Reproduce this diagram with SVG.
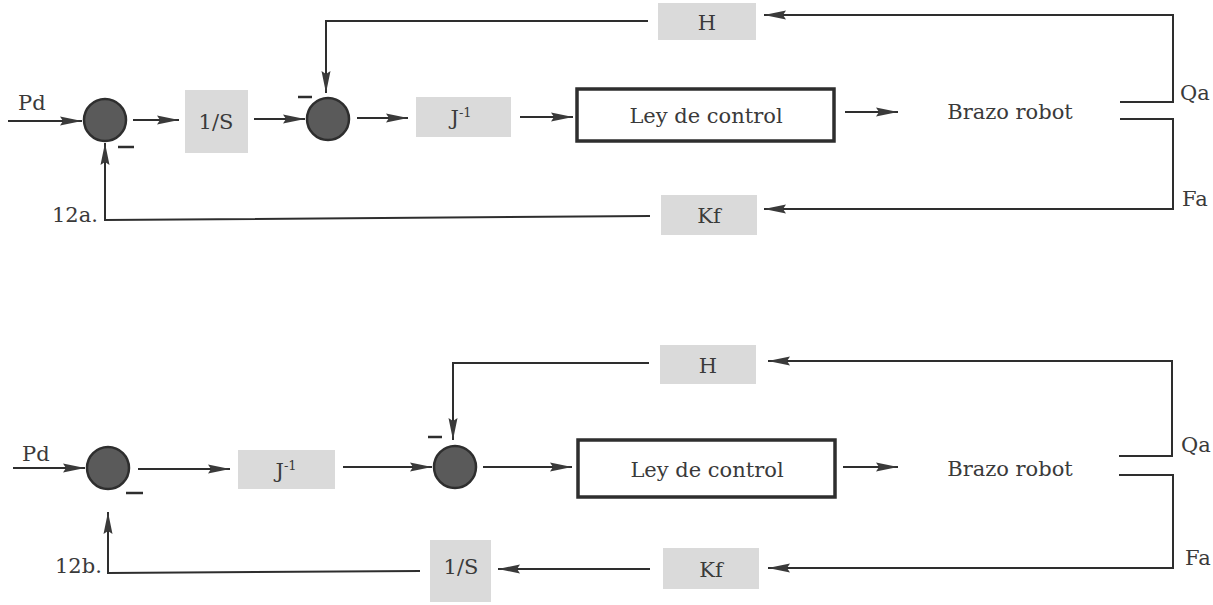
<svg xmlns="http://www.w3.org/2000/svg" width="1213" height="605" viewBox="0 0 1213 605">
  <defs>
    <marker id="arrow" viewBox="0 0 22 10" refX="22" refY="5" markerWidth="22" markerHeight="10" markerUnits="userSpaceOnUse" orient="auto">
      <path d="M0,0.5 L22,5 L0,9.5 L3,5 z" fill="#3a3a3a"/>
    </marker>
    <style>
      .wire { fill: none; stroke: #2e2e2e; stroke-width: 2; }
      .arr { fill: none; stroke: #2e2e2e; stroke-width: 2; marker-end: url(#arrow); }
      .sum { fill: #5a5a5a; stroke: #2e2e2e; stroke-width: 2.5; }
      .gain { fill: #dadada; }
      .ctrl { fill: #ffffff; stroke: #2e2e2e; stroke-width: 3.5; }
      .minus { stroke: #2e2e2e; stroke-width: 2.5; }
      text { font-family: "DejaVu Serif", "Liberation Serif", serif; font-size: 21px; fill: #3a3a3a; }
      .c { text-anchor: middle; }
      .sup { font-size: 13px; }
    </style>
  </defs>

  <!-- ===== Figure 12a ===== -->
  <g id="fig12a">
    <text x="18" y="110">Pd</text>
    <text x="52" y="222">12a.</text>
    <text x="1180" y="100">Qa</text>
    <text x="1182" y="206">Fa</text>

    <g id="a-sum1">
      <circle class="sum" cx="105" cy="120" r="21"/>
      <line class="minus" x1="118" y1="147" x2="134" y2="147"/>
    </g>
    <g id="a-integrador">
      <rect class="gain" x="185" y="90" width="63" height="63"/>
      <text class="c" x="216" y="129">1/S</text>
    </g>
    <g id="a-sum2">
      <circle class="sum" cx="328" cy="119" r="21"/>
      <line class="minus" x1="298" y1="97" x2="312" y2="97"/>
    </g>
    <g id="a-jinv">
      <rect class="gain" x="416" y="97" width="95" height="40"/>
      <text class="c" x="461" y="125">J<tspan class="sup" dy="-8">-1</tspan></text>
    </g>
    <g id="a-ley">
      <rect class="ctrl" x="577" y="89" width="257" height="52"/>
      <text class="c" x="706" y="123">Ley de control</text>
    </g>
    <g id="a-brazo">
      <text class="c" x="1010" y="119">Brazo robot</text>
    </g>
    <g id="a-H">
      <rect class="gain" x="658" y="3" width="98" height="37"/>
      <text class="c" x="707" y="30">H</text>
    </g>
    <g id="a-Kf">
      <rect class="gain" x="661" y="195" width="96" height="40"/>
      <text class="c" x="709" y="223">Kf</text>
    </g>

    <g id="a-connectors">
      <line class="arr" x1="8" y1="121" x2="82" y2="121"/>
      <line class="arr" x1="133" y1="120" x2="179" y2="120"/>
      <line class="arr" x1="254" y1="119" x2="305" y2="119"/>
      <line class="arr" x1="357" y1="118" x2="408" y2="118"/>
      <line class="arr" x1="520" y1="117" x2="573" y2="117"/>
      <line class="arr" x1="845" y1="112" x2="898" y2="112"/>
      <path class="arr" d="M1120,102 H1173 V15 H764"/>
      <path class="arr" d="M648,21 H326 V93"/>
      <path class="arr" d="M1120,119 H1173 V209 H764"/>
      <path class="arr" d="M650,216 L105,220 V143"/>
    </g>
  </g>

  <!-- ===== Figure 12b ===== -->
  <g id="fig12b">
    <text x="22" y="461">Pd</text>
    <text x="55" y="573">12b.</text>
    <text x="1181" y="452">Qa</text>
    <text x="1185" y="565">Fa</text>

    <g id="b-sum1">
      <circle class="sum" cx="108" cy="468" r="21"/>
      <line class="minus" x1="126" y1="493" x2="143" y2="493"/>
    </g>
    <g id="b-jinv">
      <rect class="gain" x="238" y="450" width="97" height="39"/>
      <text class="c" x="286" y="478">J<tspan class="sup" dy="-8">-1</tspan></text>
    </g>
    <g id="b-sum2">
      <circle class="sum" cx="455" cy="467" r="21"/>
      <line class="minus" x1="428" y1="437" x2="442" y2="437"/>
    </g>
    <g id="b-ley">
      <rect class="ctrl" x="578" y="440" width="257" height="57"/>
      <text class="c" x="707" y="477">Ley de control</text>
    </g>
    <g id="b-brazo">
      <text class="c" x="1010" y="476">Brazo robot</text>
    </g>
    <g id="b-H">
      <rect class="gain" x="660" y="345" width="96" height="39"/>
      <text class="c" x="708" y="373">H</text>
    </g>
    <g id="b-Kf">
      <rect class="gain" x="663" y="548" width="96" height="41"/>
      <text class="c" x="711" y="577">Kf</text>
    </g>
    <g id="b-integrador">
      <rect class="gain" x="430" y="540" width="61" height="62"/>
      <text class="c" x="461" y="574">1/S</text>
    </g>

    <g id="b-connectors">
      <line class="arr" x1="13" y1="468" x2="85" y2="468"/>
      <line class="arr" x1="138" y1="469" x2="230" y2="469"/>
      <line class="arr" x1="343" y1="467" x2="432" y2="467"/>
      <line class="arr" x1="483" y1="467" x2="572" y2="467"/>
      <line class="arr" x1="843" y1="467" x2="898" y2="467"/>
      <path class="arr" d="M649,363 H453 V440"/>
      <path class="arr" d="M1119,456 H1172 V361 H768"/>
      <path class="arr" d="M1119,475 H1173 V568 H768"/>
      <line class="arr" x1="650" y1="569" x2="498" y2="569"/>
      <path class="arr" d="M420,571 L108,573 V512"/>
    </g>
  </g>
</svg>
